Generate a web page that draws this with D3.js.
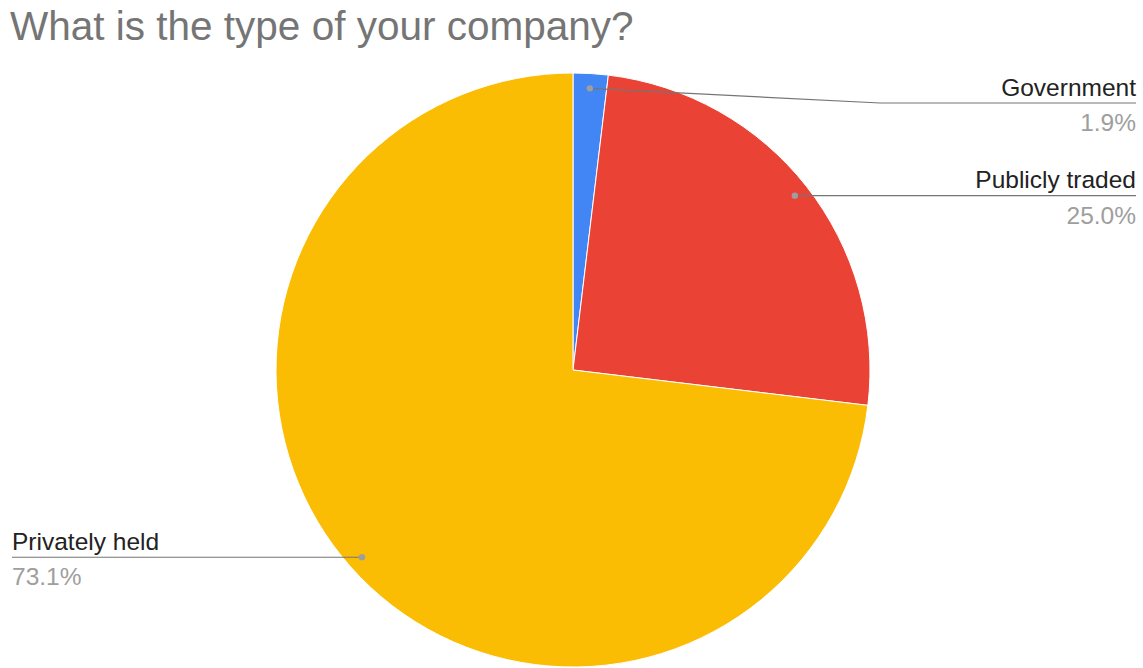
<!DOCTYPE html>
<html>
<head>
<meta charset="utf-8">
<script src="https://cdn.jsdelivr.net/npm/d3@7"></script>
<style>
  html, body { margin: 0; padding: 0; background: #fff; }
  svg { display: block; }
</style>
</head>
<body>
<svg id="chart" width="1143" height="668"></svg>
<script>
// Company type shares (percent)
const categories = ["Government", "Publicly traded", "Privately held"];
const values = [1.9, 25.0, 73.1];
const valueLabels = ["1.9%", "25.0%", "73.1%"];
const colors = ["#4285f4", "#ea4335", "#fbbc04"];

const width = 1143, height = 668;
const cx = 573, cy = 370, R = 297;

const svg = d3.select("#chart");

svg.append("text")
  .attr("x", 10)
  .attr("y", 40)
  .attr("font-family", "'Liberation Sans', Arial, sans-serif")
  .attr("font-size", 40.5)
  .attr("fill", "#757575")
  .text("What is the type of your company?");

const pie = d3.pie().sort(null).value(d => d.value);
const data = categories.map((c, i) => ({ name: c, value: values[i], label: valueLabels[i], color: colors[i] }));
const arcs = pie(data);

const arc = d3.arc().innerRadius(0).outerRadius(R);
const g = svg.append("g").attr("transform", `translate(${cx},${cy})`);

g.selectAll("path.slice")
  .data(arcs)
  .join("path")
  .attr("class", "slice")
  .attr("d", arc)
  .attr("fill", d => d.data.color)
  .attr("stroke", "#fff")
  .attr("stroke-width", 1);

// Leader anchor points sit at 95% of the radius along each slice's mid-angle
const anchorArc = d3.arc().innerRadius(R * 0.95).outerRadius(R * 0.95);

const fontFam = "'Liberation Sans', Arial, sans-serif";
const rightX = 1136, leftX = 12;

// Label placement: side, line height and bend point per slice
const labelLayout = [
  { side: "right", lineY: 103, elbowX: 880 },
  { side: "right", lineY: null, elbowX: null },
  { side: "left", lineY: null, elbowX: null }
];

const lab = svg.append("g");

arcs.forEach((a, i) => {
  const [ax, ay] = anchorArc.centroid(a);
  const px = cx + ax, py = cy + ay;
  const L = labelLayout[i];
  const lineY = L.lineY == null ? py : L.lineY;
  const endX = L.side === "right" ? rightX : leftX;

  const pts = [[px, py]];
  if (L.elbowX != null) pts.push([L.elbowX, lineY]);
  pts.push([endX, lineY]);

  lab.append("path")
    .attr("d", d3.line()(pts))
    .attr("fill", "none")
    .attr("stroke", "#757575")
    .attr("stroke-width", 1.2);

  lab.append("circle")
    .attr("cx", px).attr("cy", py).attr("r", 3.2)
    .attr("fill", "#9e9e9e");

  const anchor = L.side === "right" ? "end" : "start";
  lab.append("text")
    .attr("x", endX).attr("y", lineY - 7.5)
    .attr("text-anchor", anchor)
    .attr("font-family", fontFam)
    .attr("font-size", 24.5)
    .attr("fill", "#222")
    .text(a.data.name);

  lab.append("text")
    .attr("x", endX).attr("y", lineY + 28)
    .attr("text-anchor", anchor)
    .attr("font-family", fontFam)
    .attr("font-size", 24.5)
    .attr("fill", "#9e9e9e")
    .text(a.data.label);
});
</script>
</body>
</html>
